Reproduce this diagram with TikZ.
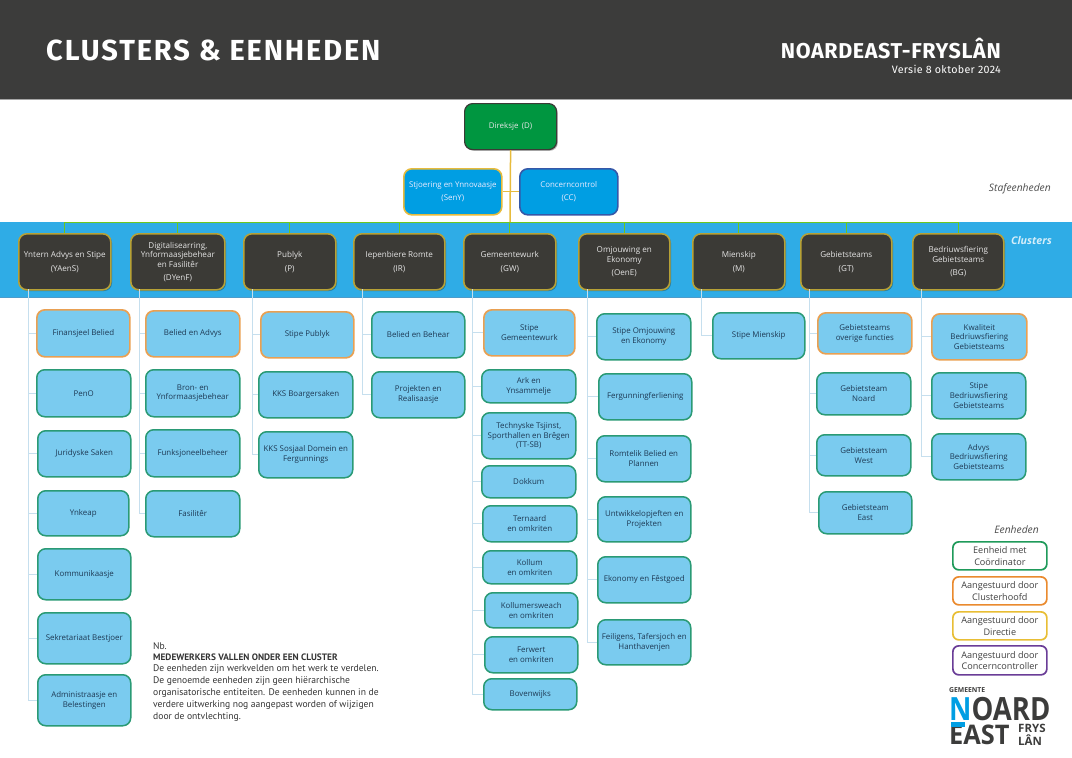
\documentclass[tikz,border=0pt]{standalone}
\usepackage{fontspec}
\usepackage{graphicx}
\setmainfont{Open Sans}
\newfontfamily\headfont[LetterSpace=6.5]{Fira Sans}
\newfontfamily\subfont[LetterSpace=3]{Fira Sans}
\newfontfamily\notefont{PT Sans}
\usetikzlibrary{shadows,calc}
\definecolor{headbg}{HTML}{3C3C3B}
\definecolor{bandc}{HTML}{2FACE6}
\definecolor{bandl}{HTML}{4C9CCB}
\definecolor{unitf}{HTML}{7ACBEF}
\definecolor{greenb}{HTML}{2A9A75}
\definecolor{orangeb}{HTML}{E9A052}
\definecolor{yellowb}{HTML}{E8BE35}
\definecolor{purpleb}{HTML}{6A3D97}
\definecolor{greenl}{HTML}{1F9A5A}
\definecolor{orangel}{HTML}{EA8A2E}
\definecolor{clusterf}{HTML}{3B3A36}
\definecolor{clusterb}{HTML}{B7A136}
\definecolor{dirf}{HTML}{009640}
\definecolor{stafff}{HTML}{009EE3}
\definecolor{navyb}{HTML}{3558A8}
\definecolor{txt}{HTML}{1E3A55}
\definecolor{treec}{HTML}{C6DFEE}
\definecolor{goldc}{HTML}{E7BB3C}
\definecolor{logoc}{HTML}{3C3C3B}
\tikzset{
  basebox/.style={rectangle,rounded corners=8pt,align=center,inner sep=0pt,anchor=north west,font=\fontsize{7.9}{9.7}\selectfont},
  unitbox/.style={basebox,fill=unitf,draw=greenb,line width=1.5pt,text=txt},
  headbox/.style={basebox,fill=unitf,draw=orangeb,line width=1.7pt,text=txt},
  clusterbox/.style={basebox,fill=clusterf,draw=clusterb,line width=1.6pt,text=white!90!black,font=\fontsize{8.1}{9.7}\selectfont,drop shadow={shadow xshift=1.2pt,shadow yshift=-1.2pt,opacity=.3,fill=black}},
  dirbox/.style={basebox,fill=dirf,draw=clusterf,line width=1.2pt,text=white!90!black,drop shadow={shadow xshift=1.2pt,shadow yshift=-1.2pt,opacity=.3,fill=black}},
  staffbox/.style={basebox,fill=stafff,draw=goldc,line width=1.6pt,text=white!92!blue},
  ccbox/.style={basebox,fill=stafff,draw=navyb,line width=1.6pt,text=white!92!blue},
  legendbox/.style={basebox,fill=white,line width=1.7pt,text=black!75,rounded corners=6pt,font=\fontsize{9.1}{11.5}\selectfont},
  tree/.style={draw=treec,line width=.8pt},
  goldline/.style={draw=goldc,line width=1.5pt},
  busline/.style={draw=clusterb!60!green,line width=.8pt},
  titletext/.style={text=white,inner sep=0pt},
  notestyle/.style={inner sep=0pt,anchor=north west,align=left,text=black!80,font=\notefont\fontsize{9.6}{12}\selectfont},
}
\newcommand{\bx}[7]{%
  \pgfmathsetmacro{\bw}{#4-#2}\pgfmathsetmacro{\bh}{#5-#3}%
  \node[#6,minimum width=\bw pt,minimum height=\bh pt] (#1) at (#2,#3) {#7};}
\begin{document}
\begin{tikzpicture}[x=1pt,y=-1pt]
\useasboundingbox (0,0) rectangle (1072,758);
% header and band
\fill[headbg] (0,0) rectangle (1072,99);
\draw[black!35,line width=.8pt] (0,99.5) -- (1072,99.5);
\fill[bandc] (0,222) rectangle (1072,297);
\draw[bandl,line width=1pt] (0,297) -- (1072,297);
\node[titletext,anchor=west] (title) at (46,50.5) {\headfont\fontsize{29}{29}\selectfont\bfseries CLUSTERS \& EENHEDEN};
\node[titletext,anchor=east] (org) at (1001,48) {\subfont\fontsize{21.5}{21.5}\selectfont\bfseries NOARDEAST-FRYSLÂN};
\node[titletext,anchor=east] (versie) at (1001,69) {\subfont\fontsize{10.7}{10.7}\selectfont Versie 8 oktober 2024};
% top boxes
\bx{dir}{464}{103}{556}{149}{dirbox}{Direksje\, (D)}
\bx{seny}{403}{168}{501}{214}{staffbox}{Stjoering en Ynnovaasje\\[3pt](SenY)}
\bx{cc}{519}{168}{617}{214}{ccbox}{Concerncontrol\\[3pt](CC)}
% clusters
\bx{c1}{18}{233}{110}{289}{clusterbox}{Yntern Advys en Stipe\\[4pt](YAenS)}
\bx{c2}{130}{233}{224}{289}{clusterbox}{Digitalisearring,\\Ynformaasjebehear\\en Fasilitêr\\[3pt](DYenF)}
\bx{c3}{243}{233}{335}{289}{clusterbox}{Publyk\\[4pt](P)}
\bx{c4}{353}{233}{444}{289}{clusterbox}{Iepenbiere Romte\\[4pt](IR)}
\bx{c5}{463}{233}{555}{289}{clusterbox}{Gemeentewurk\\[4pt](GW)}
\bx{c6}{578}{233}{669}{289}{clusterbox}{Omjouwing en\\Ekonomy\\[4pt](OenE)}
\bx{c7}{692}{233}{784}{289}{clusterbox}{Mienskip\\[4pt](M)}
\bx{c8}{800}{233}{891}{289}{clusterbox}{Gebietsteams\\[4pt](GT)}
\bx{c9}{912}{233}{1003}{289}{clusterbox}{Bedriuwsfiering\\Gebietsteams\\[4pt](BG)}
% units column 1
\bx{a1}{36}{309}{129}{356}{headbox}{Finansjeel Belied}
\bx{a2}{36}{369}{130}{416}{unitbox}{PenO}
\bx{a3}{37}{430}{130}{476}{unitbox}{Juridyske Saken}
\bx{a4}{37}{490}{128}{535}{unitbox}{Ynkeap}
\bx{a5}{37}{548}{130}{599}{unitbox}{Kommunikaasje}
\bx{a6}{37}{612}{130}{663}{unitbox}{Sekretariaat Bestjoer}
\bx{a7}{37}{674}{130}{725}{unitbox}{Administraasje en\\Belestingen}
% column 2
\bx{b1}{145}{310}{239}{356}{headbox}{Belied en Advys}
\bx{b2}{145}{369}{239}{416}{unitbox}{Bron- en\\Ynformaasjebehear}
\bx{b3}{145}{429}{239}{476}{unitbox}{Funksjoneelbeheer}
\bx{b4}{145}{490}{239}{536}{unitbox}{Fasilitêr}
% column 3
\bx{d1}{260}{311}{353}{357}{headbox}{Stipe Publyk}
\bx{d2}{258}{371}{352}{417}{unitbox}{KKS Boargersaken}
\bx{d3}{258}{431}{352}{477}{unitbox}{KKS Sosjaal Domein en\\Fergunnings}
% column 4
\bx{e1}{371}{311}{464}{357}{unitbox}{Belied en Behear}
\bx{e2}{371}{371}{464}{417}{unitbox}{Projekten en\\Realisaasje}
% column 5
\bx{f1}{483}{309}{574}{355}{headbox}{Stipe\\Gemeentewurk}
\bx{f2}{481}{369}{575}{402}{unitbox}{Ark en\\Ynsammelje}
\bx{f3}{481}{412}{575}{458}{unitbox}{Technyske Tsjinst,\\Sporthallen en Brêgen\\(TT-SB)}
\bx{f4}{481}{465}{575}{497}{unitbox}{Dokkum}
\bx{f5}{482}{505}{576}{541}{unitbox}{Ternaard\\en omkriten}
\bx{f6}{482}{550}{576}{583}{unitbox}{Kollum\\en omkriten}
\bx{f7}{484}{592}{577}{627}{unitbox}{Kollumersweach\\en omkriten}
\bx{f8}{484}{636}{577}{672}{unitbox}{Ferwert\\en omkriten}
\bx{f9}{483}{678}{576}{709}{unitbox}{Bovenwijks}
% column 6
\bx{g1}{596}{313}{690}{359}{unitbox}{Stipe Omjouwing\\en Ekonomy}
\bx{g2}{598}{373}{691}{419}{unitbox}{Fergunningferliening}
\bx{g3}{596}{435}{690}{481}{unitbox}{Romtelik Belied en\\Plannen}
\bx{g4}{597}{496}{690}{541}{unitbox}{Untwikkelopjeften en\\Projekten}
\bx{g5}{597}{556}{690}{602}{unitbox}{Ekonomy en Fêstgoed}
\bx{g6}{597}{619}{690}{664}{unitbox}{Feiligens, Tafersjoch en\\Hanthavenjen}
% column 7
\bx{h1}{712}{312}{804}{358}{unitbox}{Stipe Mienskip}
% column 8
\bx{i1}{817}{312}{911}{353}{headbox}{Gebietsteams\\overige functies}
\bx{i2}{816}{372}{910}{414}{unitbox}{Gebietsteam\\Noard}
\bx{i3}{816}{434}{910}{475}{unitbox}{Gebietsteam\\West}
\bx{i4}{818}{491}{911}{533}{unitbox}{Gebietsteam\\East}
% column 9
\bx{j1}{931}{313}{1026}{359}{headbox}{Kwaliteit\\Bedriuwsfiering\\Gebietsteams}
\bx{j2}{931}{372}{1025}{418}{unitbox}{Stipe\\Bedriuwsfiering\\Gebietsteams}
\bx{j3}{931}{433}{1025}{479}{unitbox}{Advys\\Bedriuwsfiering\\Gebietsteams}
% connectors
\coordinate (bus) at (510,222);
\coordinate (ta) at (28,289);
\coordinate (tb) at (139,289);
\coordinate (td) at (252,289);
\coordinate (te) at (362,289);
\coordinate (tf) at (472.5,289);
\coordinate (tg) at (587.5,289);
\coordinate (th) at (701,289);
\coordinate (ti) at (809.5,289);
\coordinate (tj) at (921.5,289);
\foreach \u in {a1,a2,a3,a4,a5,a6,a7}{\draw[tree] (ta) |- (\u.west);}
\foreach \u in {b1,b2,b3,b4}{\draw[tree] (tb) |- (\u.west);}
\foreach \u in {d1,d2,d3}{\draw[tree] (td) |- (\u.west);}
\foreach \u in {e1,e2}{\draw[tree] (te) |- (\u.west);}
\foreach \u in {f1,f2,f3,f4,f5,f6,f7,f8,f9}{\draw[tree] (tf) |- (\u.west);}
\foreach \u in {g1,g2,g3,g4,g5,g6}{\draw[tree] (tg) |- (\u.west);}
\foreach \u in {h1}{\draw[tree] (th) |- (\u.west);}
\foreach \u in {i1,i2,i3,i4}{\draw[tree] (ti) |- (\u.west);}
\foreach \u in {j1,j2,j3}{\draw[tree] (tj) |- (\u.west);}
\foreach \u in {c1,c2,c3,c4,c5,c6,c7,c8,c9}{\draw[busline] (bus) -| (\u.north);}
\draw[goldline] (dir.south) -- (bus);
\draw[goldline,line width=1pt] (seny.east) -- (cc.west);
% side labels
\node[inner sep=0pt,anchor=east,text=black!70] (staf) at (1051,189) {\fontsize{10.3}{10.3}\selectfont\itshape Stafeenheden};
\node[inner sep=0pt,anchor=east,text=white!80!bandc] (clab) at (1052,241) {\fontsize{10.6}{10.6}\selectfont\itshape\bfseries Clusters};
\node[inner sep=0pt,anchor=east,text=black!70] (elab) at (1039,530) {\fontsize{10.3}{10.3}\selectfont\itshape Eenheden};
% legend
\bx{l1}{952}{541}{1046}{569}{legendbox,draw=greenl}{Eenheid met\\Coördinator}
\bx{l2}{952}{576}{1046}{604}{legendbox,draw=orangel}{Aangestuurd door\\Clusterhoofd}
\bx{l3}{952}{611}{1046}{639}{legendbox,draw=yellowb}{Aangestuurd door\\Directie}
\bx{l4}{952}{645}{1046}{674}{legendbox,draw=purpleb}{Aangestuurd door\\Concerncontroller}
% note
\node[notestyle] (note) at (153,642) {Nb.\\[-.8pt]{\fontsize{9.3}{12}\selectfont\textbf{MEDEWERKERS VALLEN ONDER EEN CLUSTER}}\\[-.8pt]De eenheden zijn werkvelden om het werk te verdelen.\\De genoemde eenheden zijn geen hiërarchische\\organisatorische entiteiten. De eenheden kunnen in de\\verdere uitwerking nog aangepast worden of wijzigen\\door de ontvlechting.};
% logo
\node[inner sep=0pt,anchor=west,text=logoc] (lg0) at (949,690) {\fontsize{6.8}{6.8}\selectfont\bfseries GEMEENTE};
\node[inner sep=0pt,anchor=base west,text=logoc] (lg1) at (949,720) {\scalebox{.86}[1]{\fontsize{32}{32}\selectfont\bfseries\textcolor{stafff}{N}OARD}};
\node[inner sep=0pt,anchor=base west,text=logoc] (lg2) at (949,744) {\scalebox{.94}[1]{\fontsize{27}{27}\selectfont\bfseries EAST}};
\node[inner sep=0pt,anchor=base west,text=logoc] (lg3) at (1018,732.5) {\fontsize{11.5}{11.5}\selectfont\bfseries FRYS};
\node[inner sep=0pt,anchor=base west,text=logoc] (lg4) at (1018,745) {\fontsize{11.5}{11.5}\selectfont\bfseries LÂN};
\fill[stafff] (950.5,722) rectangle (965,727);
\end{tikzpicture}
\end{document}
